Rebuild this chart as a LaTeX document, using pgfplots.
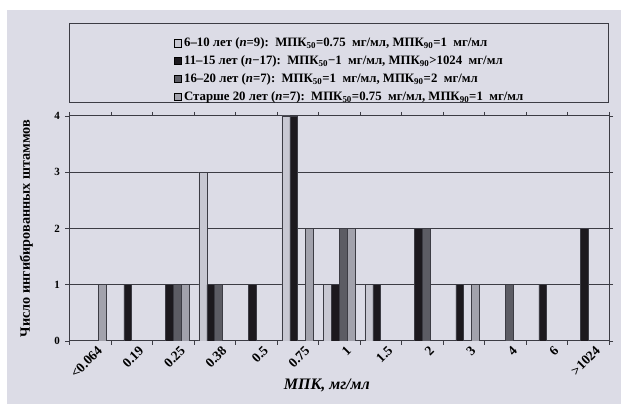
\documentclass[border=0pt]{standalone}
\usepackage{pgfplots}
\pgfplotsset{compat=1.18}
\usepackage{fontspec}
\setmainfont{Liberation Serif}
\definecolor{bg}{RGB}{220,220,230}
\definecolor{cA}{RGB}{200,200,210}
\definecolor{cB}{RGB}{28,25,30}
\definecolor{cC}{RGB}{92,92,100}
\definecolor{cD}{RGB}{162,162,172}
\definecolor{frame}{RGB}{60,60,68}
\begin{document}
\begin{tikzpicture}
\useasboundingbox (0,0) rectangle (621pt,404pt);
\fill[white] (0,0) rectangle (621pt,404pt);
\fill[bg] (7pt,0) rectangle (621pt,394pt);
\draw[frame, line width=1pt] (69pt,301pt) rectangle (608pt,380pt);
\begin{axis}[
  at={(69.5pt,63pt)}, anchor=south west,
  scale only axis, width=539.5pt, height=225pt,
  ybar=0pt, bar width=0.19,
  xmin=-0.5, xmax=12.5, ymin=0, ymax=4,
  xtick={0,...,12},
  xticklabels={<0.064,0.19,0.25,0.38,0.5,0.75,1,1.5,2,3,4,6,>1024},
  minor xtick={-0.5,0.5,...,12.5},
  ytick={0,1,2,3,4},
  minor ytick={0,1,2,3,4},
  major tick length=0pt,
  minor tick length=4pt,
  tick align=outside,
  tick style={frame, line width=0.8pt},
  ymajorgrids,
  major grid style={frame, line width=1pt},
  axis line style={frame, line width=1pt},
  /pgf/number format/assume math mode=true,
  xticklabel style={font=\fontsize{13.5}{15}\selectfont\bfseries, rotate=45, anchor=north east, xshift=5pt, yshift=-4pt},
  yticklabel style={font=\fontsize{11}{13}\selectfont\bfseries, xshift=-6pt},
  xlabel={\bfseries\itshape МПК, мг/мл},
  ylabel={\bfseries Число ингибированных штаммов},
  xlabel style={at={(axis description cs:0.477,-0.196)}, anchor=center, font=\fontsize{16}{18}\selectfont},
  ylabel style={at={(axis description cs:-0.08,0.5)}, anchor=center, font=\fontsize{14.2}{16}\selectfont},
  every axis plot/.append style={draw=frame, line width=0.7pt,
    legend image code/.code={\draw[##1, line width=0.7pt, draw=black] (0pt,-3.8pt) rectangle (7.6pt,3.8pt);}},
  legend style={at={(axis description cs:0.193,1.357)}, anchor=north west,
    draw=none, fill=none, font=\fontsize{12.8}{14}\selectfont\bfseries,
    row sep=3.6pt, inner sep=0pt,
    /tikz/every odd column/.append style={column sep=0pt}},
  legend cell align=left,
]
\addplot[fill=cA] coordinates {(3,3) (5,4) (6,1) (7,1)};
\addplot[fill=cB] coordinates {(1,1) (2,1) (3,1) (4,1) (5,4) (6,1) (7,1) (8,2) (9,1) (11,1) (12,2)};
\addplot[fill=cC] coordinates {(2,1) (3,1) (6,2) (8,2) (10,1)};
\addplot[fill=cD] coordinates {(0,1) (2,1) (5,2) (6,2) (9,1)};
\legend{
  {6–10 лет (\textit{n}=9):\ \ МПК\textsubscript{50}=0.75\ \ мг/мл, МПК\textsubscript{90}=1\ \ мг/мл},
  {11–15 лет (\textit{n}−17):\ \ МПК\textsubscript{50}−1\ \ мг/мл, МПК\textsubscript{90}>1024\ \ мг/мл},
  {16–20 лет (\textit{n}=7):\ \ МПК\textsubscript{50}=1\ \ мг/мл, МПК\textsubscript{90}=2\ \ мг/мл},
  {Старше 20 лет (\textit{n}=7):\ \ МПК\textsubscript{50}=0.75\ \ мг/мл, МПК\textsubscript{90}=1\ \ мг/мл}}
\end{axis}
\end{tikzpicture}
\end{document}
